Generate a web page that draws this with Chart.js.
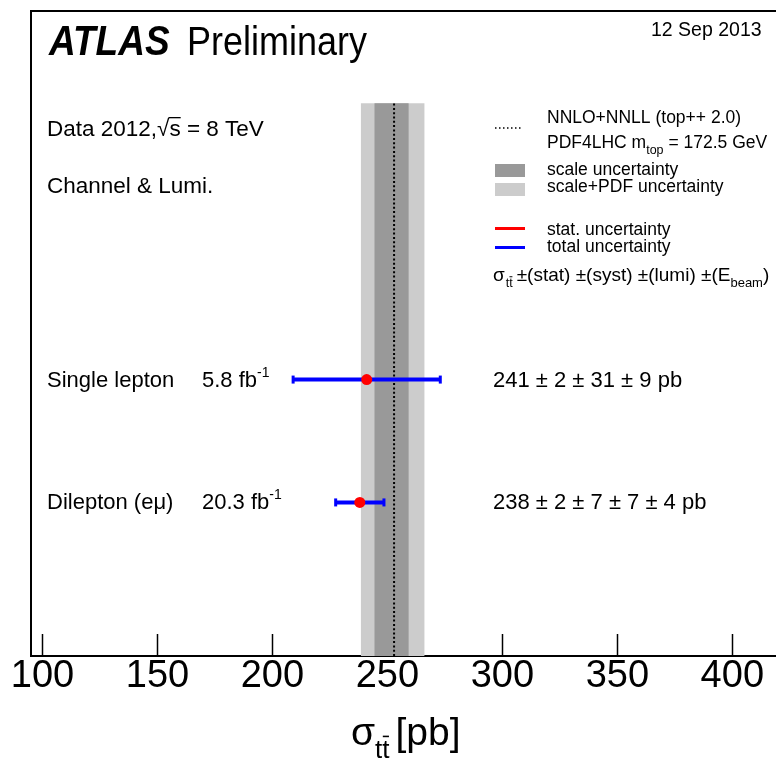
<!DOCTYPE html>
<html>
<head>
<meta charset="utf-8">
<script src="https://cdn.jsdelivr.net/npm/chart.js@4"></script>
<style>
  html, body { margin: 0; padding: 0; background: #fff; }
  #wrap { width: 776px; height: 765px; }
</style>
</head>
<body>
<div id="wrap"><canvas id="c"></canvas></div>
<script>
// measurements (pb), one entry per channel
var channels = ['Single lepton', 'Dilepton (e\u03bc)'];
var lumis = ['5.8', '20.3'];
var rowY = [2.25, 1.25];
var central = [241, 238];
var statErr = [2, 2];
var totalErr = [32, 10.5];
var resultText = ['241 \u00b1 2 \u00b1 31 \u00b1 9 pb', '238 \u00b1 2 \u00b1 7 \u00b1 7 \u00b1 4 pb'];

// NNLO+NNLL prediction and its bands
var theory = 252.9;
var scaleBand = [244.3, 259.3];
var pdfBand = [238.4, 266.2];
var bandTop = 4.5;

var xTicks = [100, 150, 200, 250, 300, 350, 400];
var xMin = 95, xMax = 419;
var yMax = 5.25;

var FAM = '"Liberation Sans", Arial, Helvetica, sans-serif';
function font(size, style) {
    return (style || '') + ' ' + size + 'px ' + FAM;
}

// draw a run of text pieces: [text, size, dy, style]
function runs(ctx, x, y, parts) {
    for (var i = 0; i < parts.length; i++) {
        var p = parts[i];
        ctx.font = font(p[1], p[3]);
        ctx.fillText(p[0], x, y + (p[2] || 0));
        x += ctx.measureText(p[0]).width;
    }
    return x;
}

// "tt" with a bar over the second t
function ttbar(ctx, x, y, size) {
    ctx.font = font(size);
    var w1 = ctx.measureText('t').width;
    ctx.fillText('tt', x, y);
    ctx.fillRect(x + w1 + size * 0.02, y - size * 0.86, w1 * 0.85, Math.max(1, size * 0.06));
    return x + ctx.measureText('tt').width;
}

var datasets = [];
datasets.push({
    label: 'scale+PDF uncertainty',
    data: pdfBand.map(function (v) { return { x: v, y: bandTop }; }),
    fill: 'start', backgroundColor: '#cccccc', borderColor: 'rgba(0,0,0,0)',
    borderWidth: 0, pointRadius: 0, order: 6
});
datasets.push({
    label: 'scale uncertainty',
    data: scaleBand.map(function (v) { return { x: v, y: bandTop }; }),
    fill: 'start', backgroundColor: '#999999', borderColor: 'rgba(0,0,0,0)',
    borderWidth: 0, pointRadius: 0, order: 5
});
datasets.push({
    label: 'NNLO+NNLL',
    data: [{ x: theory, y: 0 }, { x: theory, y: bandTop }],
    borderColor: '#000', borderWidth: 2, borderDash: [2, 2.3],
    pointRadius: 0, fill: false, order: 4
});
for (var i = 0; i < channels.length; i++) {
    datasets.push({
        label: channels[i] + ' total',
        data: [{ x: central[i] - totalErr[i], y: rowY[i] }, { x: central[i] + totalErr[i], y: rowY[i] }],
        borderColor: '#0000ff', borderWidth: 4, fill: false,
        pointStyle: 'line', rotation: 90, pointRadius: 4, pointBorderWidth: 3,
        pointBorderColor: '#0000ff', order: 3
    });
    datasets.push({
        label: channels[i] + ' stat',
        data: [{ x: central[i] - statErr[i], y: rowY[i] }, { x: central[i] + statErr[i], y: rowY[i] }],
        borderColor: '#ff0000', borderWidth: 4, fill: false, pointRadius: 0, order: 2
    });
}
datasets.push({
    label: 'central',
    data: central.map(function (v, k) { return { x: v, y: rowY[k] }; }),
    showLine: false, pointRadius: 5.5, pointBackgroundColor: '#ff0000',
    pointBorderWidth: 0, pointBorderColor: '#ff0000', order: 1
});

var textPlugin = {
    id: 'atlasText',
    afterDraw: function (chart) {
        var ctx = chart.ctx;
        var a = chart.chartArea;
        var ys = chart.scales.y;
        ctx.save();
        ctx.fillStyle = '#000';
        ctx.strokeStyle = '#000';
        ctx.textBaseline = 'alphabetic';
        ctx.textAlign = 'left';

        // frame: left and top
        ctx.lineWidth = 2;
        ctx.beginPath();
        ctx.moveTo(a.left, a.bottom);
        ctx.lineTo(a.left, a.top);
        ctx.lineTo(a.right + 2, a.top);
        ctx.stroke();

        // ATLAS Preliminary (a bit taller than wide, as in the reference)
        ctx.save();
        ctx.translate(49, 55);
        ctx.scale(1, 1.15);
        ctx.font = font(37, 'italic bold');
        ctx.fillText('ATLAS', 0, 0);
        ctx.font = font(36);
        ctx.fillText('Preliminary', 138, 0);
        ctx.restore();

        ctx.font = font(19.5);
        ctx.fillText('12 Sep 2013', 651, 36);

        // Data line with sqrt(s)
        var x = runs(ctx, 47, 136, [['Data 2012,', 22.5]]);
        ctx.font = font(22.5);
        ctx.fillText('\u221a', x, 136);
        x += ctx.measureText('\u221a').width;
        var sw = ctx.measureText('s').width;
        ctx.fillText('s', x, 136);
        ctx.fillRect(x - 1, 117, sw + 1, 1.3);
        runs(ctx, x + sw, 136, [[' = 8 TeV', 22.5]]);

        ctx.font = font(22.5);
        ctx.fillText('Channel & Lumi.', 47, 193);

        // channel rows
        for (var k = 0; k < channels.length; k++) {
            var by = ys.getPixelForValue(rowY[k]) + 7;
            ctx.font = font(22);
            ctx.fillText(channels[k], 47, by);
            runs(ctx, 202, by, [[lumis[k] + ' fb', 22], ['-1', 14, -10]]);
            ctx.font = font(22);
            ctx.fillText(resultText[k], 493, by);
        }

        // legend
        ctx.font = font(17.5);
        ctx.fillText('NNLO+NNLL (top++ 2.0)', 547, 123);
        runs(ctx, 547, 148, [['PDF4LHC m', 17.5], ['top', 12.5, 6], [' = 172.5 GeV', 17.5]]);
        ctx.save();
        ctx.lineWidth = 1.5;
        ctx.setLineDash([1.5, 2.5]);
        ctx.beginPath();
        ctx.moveTo(495, 128);
        ctx.lineTo(523, 128);
        ctx.stroke();
        ctx.restore();

        ctx.fillStyle = '#999999';
        ctx.fillRect(495, 164, 30, 13);
        ctx.fillStyle = '#cccccc';
        ctx.fillRect(495, 183, 30, 13);
        ctx.fillStyle = '#000';
        ctx.font = font(17.5);
        ctx.fillText('scale uncertainty', 547, 175);
        ctx.fillText('scale+PDF uncertainty', 547, 192);

        ctx.lineWidth = 3;
        ctx.strokeStyle = '#ff0000';
        ctx.beginPath(); ctx.moveTo(495, 228.5); ctx.lineTo(525, 228.5); ctx.stroke();
        ctx.strokeStyle = '#0000ff';
        ctx.beginPath(); ctx.moveTo(495, 247.5); ctx.lineTo(525, 247.5); ctx.stroke();
        ctx.font = font(17.5);
        ctx.fillText('stat. uncertainty', 547, 235);
        ctx.fillText('total uncertainty', 547, 252);

        x = runs(ctx, 493, 281, [['\u03c3', 19]]);
        x = ttbar(ctx, x + 1, 287, 12.5);
        x = runs(ctx, x + 4, 281, [['\u00b1(stat) \u00b1(syst) \u00b1(lumi) \u00b1(E', 19], ['beam', 13, 6], [')', 19]]);

        // axis title
        x = runs(ctx, 351, 745, [['\u03c3', 39]]);
        x = ttbar(ctx, x, 758, 26);
        runs(ctx, x + 6, 745, [['[pb]', 39]]);

        ctx.restore();
    }
};

new Chart(document.getElementById('c'), {
    type: 'line',
    data: { datasets: datasets },
    options: {
        responsive: true,
        maintainAspectRatio: false,
        animation: false,
        events: [],
        layout: { autoPadding: false, padding: { left: 31, top: 11, right: 0, bottom: 67 } },
        plugins: { legend: { display: false }, tooltip: { enabled: false } },
        scales: {
            x: {
                type: 'linear', min: xMin, max: xMax,
                afterBuildTicks: function (s) {
                    s.ticks = xTicks.map(function (v) { return { value: v }; });
                },
                afterFit: function (s) {
                    // keep the plot frame where the reference has it
                    s.paddingLeft = 0;
                    s.paddingRight = 0;
                    s.height = 42;
                },
                ticks: {
                    font: { family: FAM, size: 38 }, color: '#000',
                    padding: 20, maxRotation: 0, autoSkip: false
                },
                grid: { drawOnChartArea: false, tickLength: -22, tickColor: '#000', tickWidth: 1.5 },
                border: { display: true, color: '#000', width: 2 }
            },
            y: { type: 'linear', display: false, min: 0, max: yMax }
        }
    },
    plugins: [textPlugin]
});
</script>
</body>
</html>
